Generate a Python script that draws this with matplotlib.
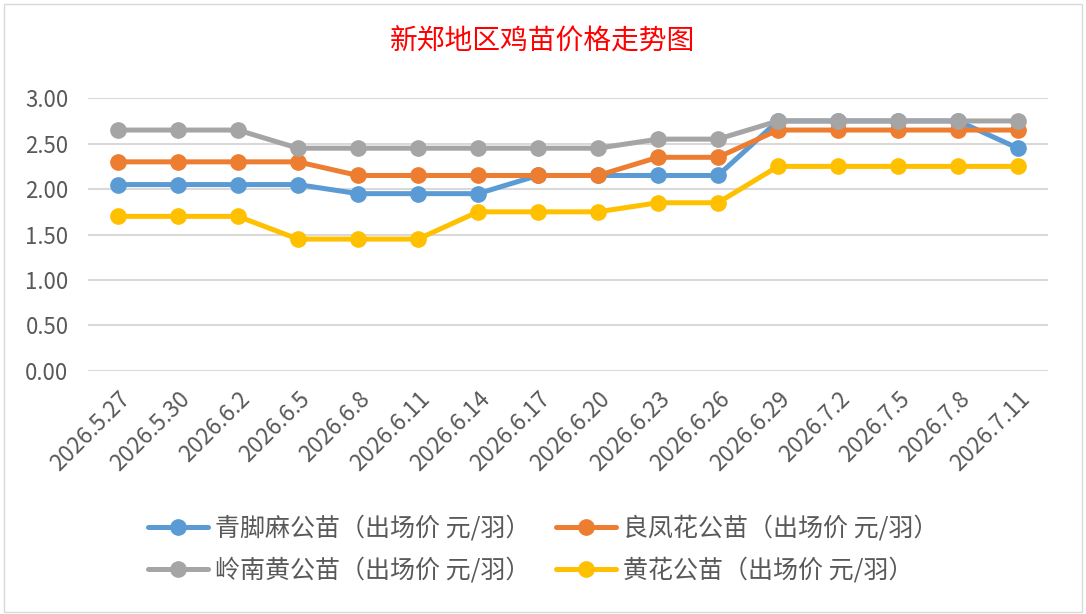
import matplotlib
matplotlib.use("Agg")
from matplotlib import pyplot as plt
from matplotlib.patches import Rectangle

plt.rcParams["font.family"] = ["Noto Sans CJK SC", "DejaVu Sans"]

# Data
dates = ["2026.5.27", "2026.5.30", "2026.6.2", "2026.6.5", "2026.6.8", "2026.6.11",
         "2026.6.14", "2026.6.17", "2026.6.20", "2026.6.23", "2026.6.26", "2026.6.29",
         "2026.7.2", "2026.7.5", "2026.7.8", "2026.7.11"]
qingjiaoma = [2.05, 2.05, 2.05, 2.05, 1.95, 1.95, 1.95, 2.15, 2.15, 2.15, 2.15,
              2.75, 2.75, 2.75, 2.75, 2.45]
liangfenghua = [2.30, 2.30, 2.30, 2.30, 2.15, 2.15, 2.15, 2.15, 2.15, 2.35, 2.35,
                2.65, 2.65, 2.65, 2.65, 2.65]
lingnanhuang = [2.65, 2.65, 2.65, 2.45, 2.45, 2.45, 2.45, 2.45, 2.45, 2.55, 2.55,
                2.75, 2.75, 2.75, 2.75, 2.75]
huanghua = [1.70, 1.70, 1.70, 1.45, 1.45, 1.45, 1.75, 1.75, 1.75, 1.85, 1.85,
            2.25, 2.25, 2.25, 2.25, 2.25]
names = ["青脚麻公苗（出场价 元/羽）", "良凤花公苗（出场价 元/羽）",
         "岭南黄公苗（出场价 元/羽）", "黄花公苗（出场价 元/羽）"]
colors = ["#5b9bd5", "#ed7d31", "#a5a5a5", "#ffc000"]

fig = plt.figure(figsize=(10.86, 6.14), dpi=100)
fig.patches.append(Rectangle((0.004, 0.004), 0.992, 0.99, transform=fig.transFigure,
                             fill=False, edgecolor="#d9d9d9", linewidth=1))
ax = fig.add_axes([0.081, 0.396, 0.884, 0.444])

x = list(range(len(dates)))
handles = []
for series, name, c in zip([qingjiaoma, liangfenghua, lingnanhuang, huanghua], names, colors):
    h, = ax.plot(x, series, color=c, linewidth=3.6, marker="o", markersize=11,
                 label=name, solid_capstyle="round")
    handles.append(h)

ax.set_xlim(-0.5, len(dates) - 0.5)
ax.set_ylim(0, 3.0)
ax.set_yticks([0, 0.5, 1.0, 1.5, 2.0, 2.5, 3.0])
ax.set_yticklabels(["%.2f" % v for v in [0, 0.5, 1.0, 1.5, 2.0, 2.5, 3.0]])
ax.set_xticks(x)
ax.set_xticklabels(dates, rotation=45, ha="right", va="top", rotation_mode="anchor")
ax.tick_params(axis="both", length=0, labelsize=16, labelcolor="#595959")
ax.tick_params(axis="x", pad=12, labelsize=16.5)
ax.tick_params(axis="y", pad=14)
ax.grid(axis="y", color="#d9d9d9", linewidth=1.5)
ax.set_axisbelow(True)
for s in ax.spines.values():
    s.set_visible(False)

fig.text(0.5, 0.932, "新郑地区鸡苗价格走势图", color="#ff0000", fontsize=20,
         ha="center", va="center")

# legend fills column-first, reorder so rows read blue/orange, gray/yellow
order = [0, 2, 1, 3]
ax.legend([handles[i] for i in order], [names[i] for i in order],
          loc="center", bbox_to_anchor=(0.5, 0.105), bbox_transform=fig.transFigure,
          ncol=2, frameon=False, fontsize=18, labelcolor="#595959",
          handlelength=2.4, columnspacing=1.0, handletextpad=0.3, labelspacing=0.65)

fig.savefig("out.png", dpi=100)
